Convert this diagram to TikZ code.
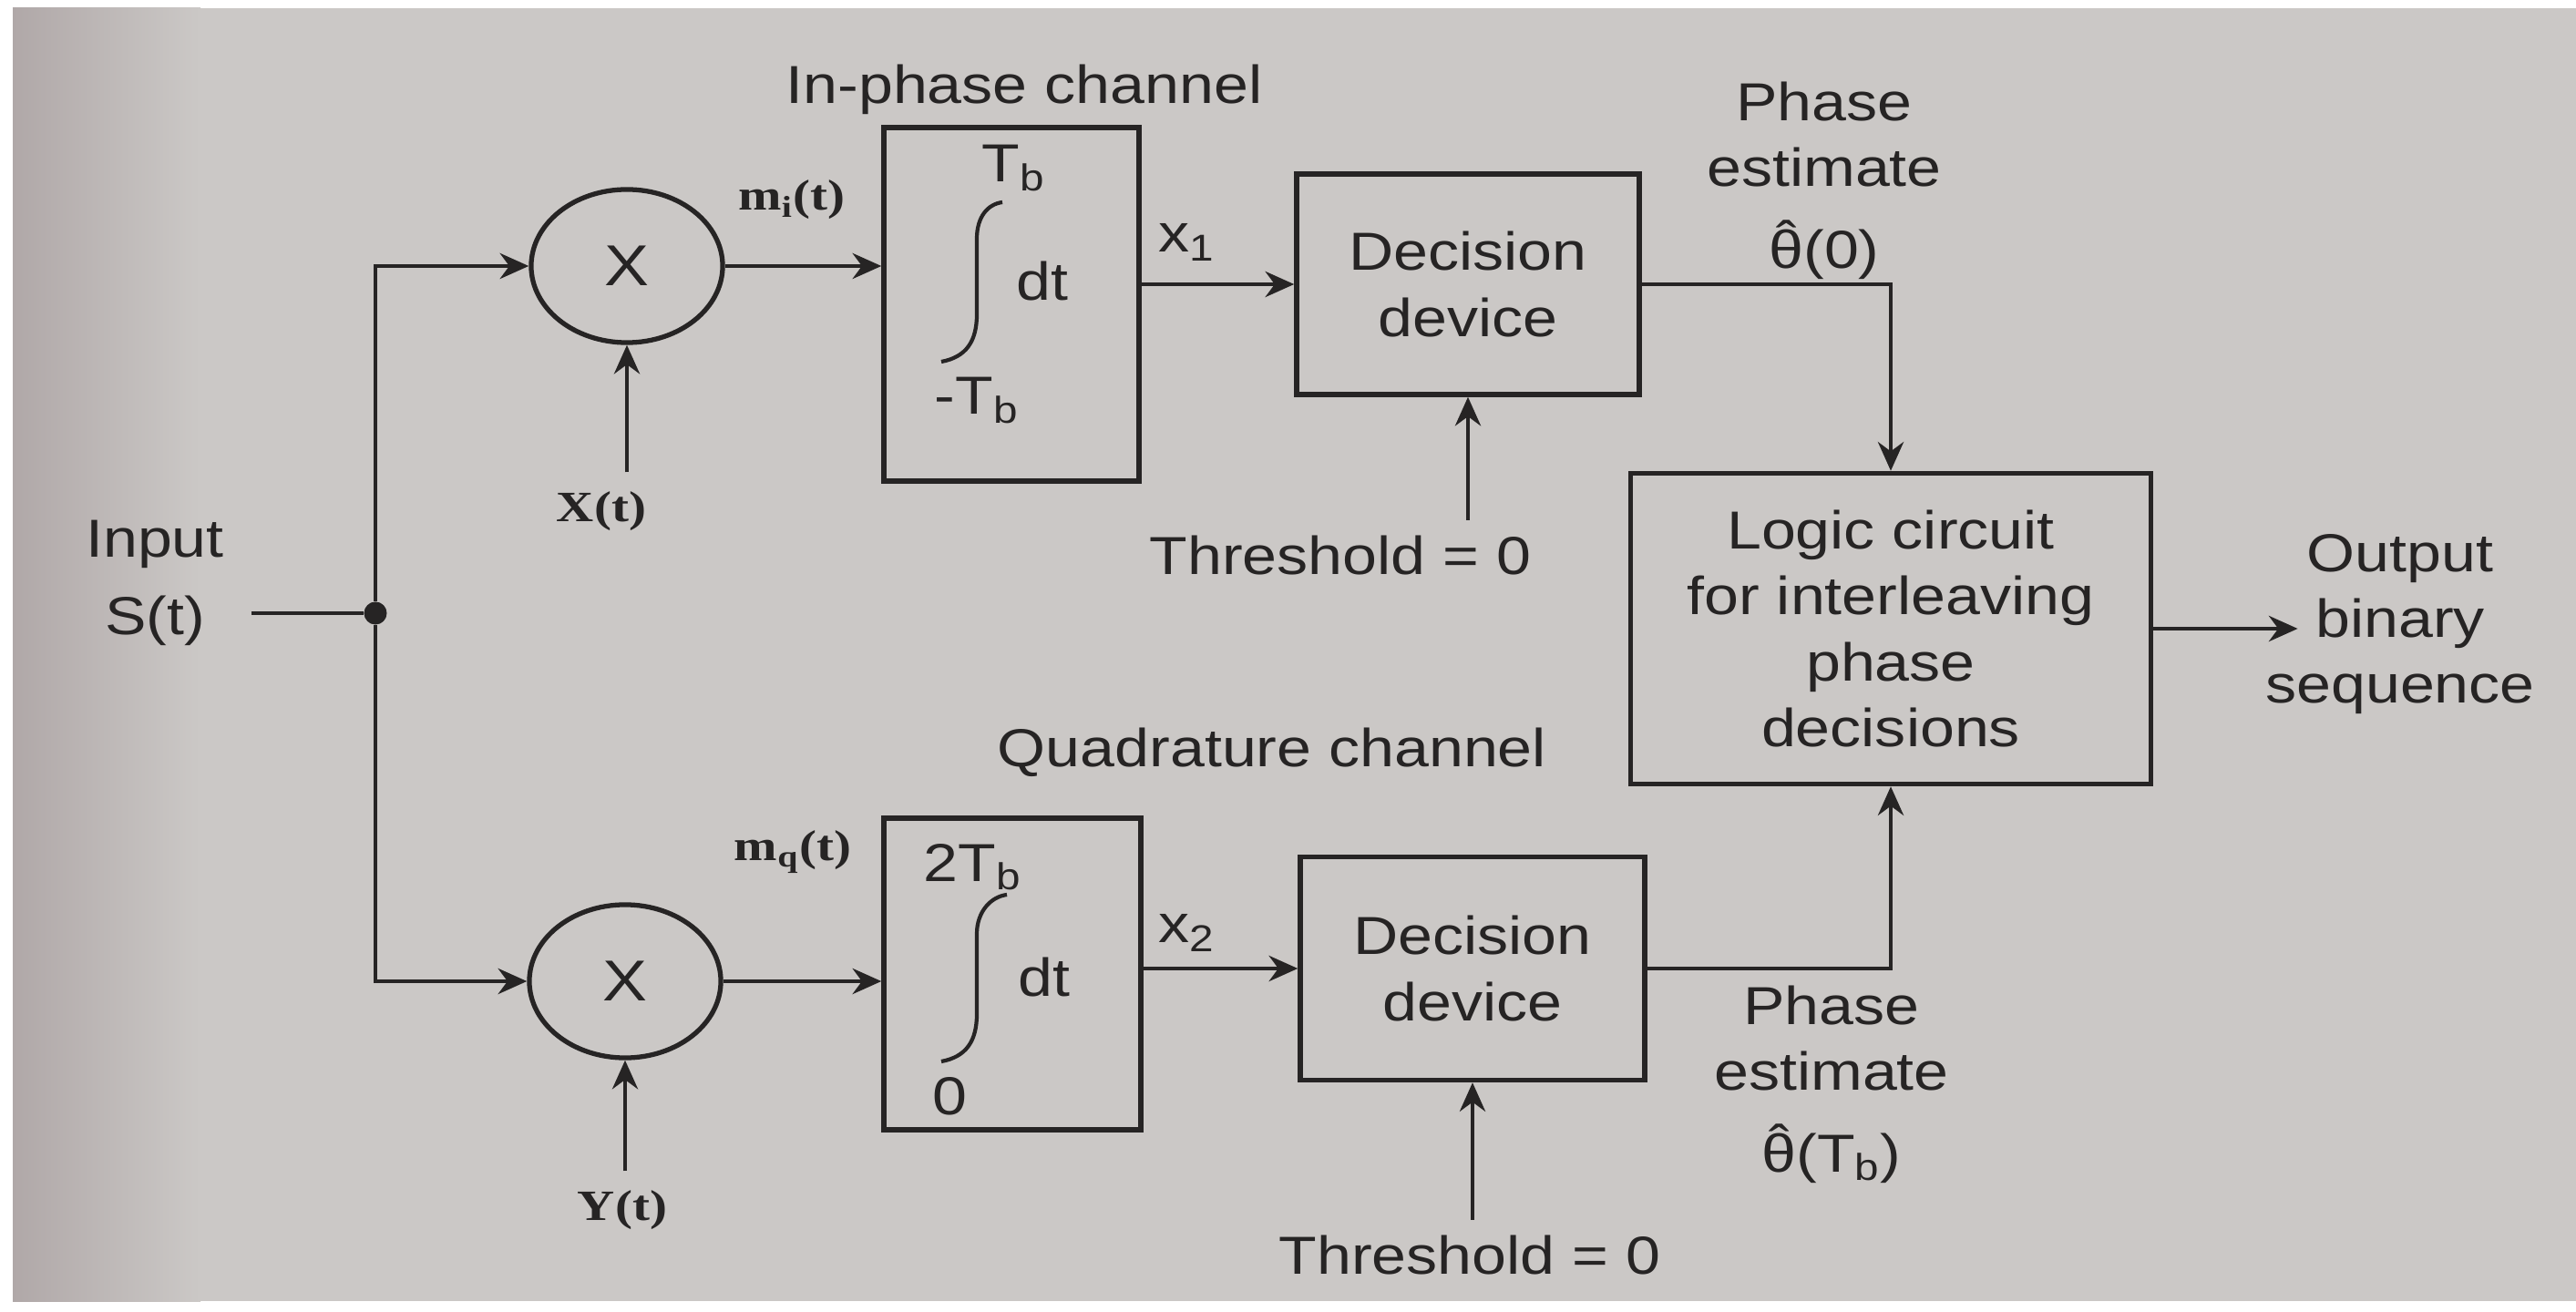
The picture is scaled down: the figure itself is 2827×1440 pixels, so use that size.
\documentclass[tikz,border=0pt]{standalone}
\usepackage{fontspec}
\setmainfont{Liberation Sans}[FakeStretch=1.16]
\newfontfamily\sigfont{Liberation Serif}[FakeStretch=1.2]
\usetikzlibrary{shapes.geometric,arrows.meta}
\definecolor{paper}{RGB}{203,200,198}
\definecolor{paperD}{RGB}{176,168,168}
\definecolor{ink}{RGB}{38,36,36}
\newcommand\thetahat{{\accent"02C6 θ}}
\tikzset{
	blockA/.style={
		draw=ink, line width=1.5pt, inner sep=0pt, align=center
	},
	mixA/.style={
		draw=ink, ellipse, line width=1.5pt, minimum width=2.1cm, minimum height=1.68cm,
		inner sep=0pt, font={\fontsize{18}{20}\selectfont}
	},
	sigA/.style={font={\sigfont\bfseries\fontsize{13.5}{15}\selectfont}, inner sep=2pt},
	txtA/.style={align=center, inner sep=0pt},
	limA/.style={anchor=base west, inner sep=0pt},
	wireA/.style={draw=ink, line width=1.3pt},
	>={Stealth[length=9pt,width=8pt]},
}

\begin{document}
\begin{tikzpicture}[x=0.01cm, y=-0.01cm, text=ink,
font={\fontsize{16.7}{20.5}\selectfont}]
\useasboundingbox (0,0) rectangle (2827,1440);
\fill[white] (0,0) rectangle (2827,1440);
\fill[paper] (14,9) rectangle (2827,1428);
\shade[left color=paperD, right color=paper] (14,9) rectangle (220,1428);

\node[txtA, outer xsep=0.3cm] (input) at (170,640) {Input\\[0.13cm]S(t)};
\node[fill=ink, circle, inner sep=0pt, minimum size=0.25cm] (dot) at (412,673) {};
\node[mixA] (mixI) at (688,292) {X};
\node[mixA] (mixQ) at (686,1077) {X};
\node[sigA, outer ysep=4pt] (xt) at (660,561) {X(t)};
\node[sigA, outer ysep=4pt] (yt) at (683,1328) {Y(t)};
\node[sigA] (mI) at (869,219) {m\textsubscript{i}(t)};
\node[sigA] (mQ) at (870,935) {m\textsubscript{q}(t)};

\node[txtA] (titleI) at (1124,98) {In-phase channel};
\node[txtA] (titleQ) at (1396,826) {Quadrature channel};
\node[blockA, minimum width=2.8cm, minimum height=3.88cm] (intI) at (1110,334) {};
\node[blockA, minimum width=2.82cm, minimum height=3.42cm] (intQ) at (1111,1069) {};
\node[limA] (upI) at (1077,200) {T\textsubscript{b}};
\node[limA] (dtI) at (1115,330) {dt};
\node[limA] (loI) at (1025,455) {-T\textsubscript{b}};
\node[limA] (upQ) at (1013,967) {2T\textsubscript{b}};
\node[limA] (dtQ) at (1117,1093) {dt};
\node[limA] (loQ) at (1023,1223) {0};
\draw[wireA, line width=1.2pt] (1033,397) .. controls (1060,392) and (1072,375) .. (1072,345)
  -- (1072,262) .. controls (1072,238) and (1084,224) .. (1100,222);
\draw[wireA, line width=1.2pt] (1033,1165) .. controls (1060,1160) and (1072,1143) .. (1072,1113)
  -- (1072,1025) .. controls (1072,1000) and (1088,984) .. (1105,982);

\node[txtA] (x1) at (1303,266) {x\textsubscript{1}};
\node[txtA] (x2) at (1303,1024) {x\textsubscript{2}};
\node[blockA, minimum width=3.76cm, minimum height=2.42cm] (decI) at (1611,312) {Decision\\device};
\node[blockA, minimum width=3.78cm, minimum height=2.45cm] (decQ) at (1616,1063) {Decision\\device};
\node[txtA, outer ysep=5pt] (thrI) at (1471,610) {Threshold = 0};
\node[txtA, outer ysep=5pt] (thrQ) at (1613,1378) {Threshold = 0};

\node[txtA] (estI) at (2002,198) {Phase\\estimate\\[0.18cm]\thetahat(0)};
\node[txtA] (estQ) at (2010,1190) {Phase\\estimate\\[0.18cm]\thetahat(T\textsubscript{b})};
\node[blockA, minimum width=5.71cm, minimum height=3.41cm] (logic) at (2075,690)
  {Logic circuit\\for interleaving\\phase\\decisions};
\node[txtA] (out) at (2634,685) {Output\\binary\\sequence};

\draw[wireA] (input.east |- dot) -- (dot);
\draw[wireA,->] (dot) |- (mixI);
\draw[wireA,->] (dot) |- (mixQ);
\draw[wireA,->] (xt.north -| mixI) -- (mixI.south);
\draw[wireA,->] (yt.north -| mixQ) -- (mixQ.south);
\draw[wireA,->] (mixI) -- (mixI -| intI.west);
\draw[wireA,->] (mixQ) -- (mixQ -| intQ.west);
\draw[wireA,->] (intI.east |- decI) -- (decI);
\draw[wireA,->] (intQ.east |- decQ) -- (decQ);
\draw[wireA,->] (thrI.north -| decI) -- (decI.south);
\draw[wireA,->] (thrQ.north -| decQ) -- (decQ.south);
\draw[wireA,->] (decI) -| (logic);
\draw[wireA,->] (decQ) -| (logic);
\draw[wireA,->] (logic) -- ([xshift=0.36cm]out.west |- logic);
\end{tikzpicture}
\end{document}
